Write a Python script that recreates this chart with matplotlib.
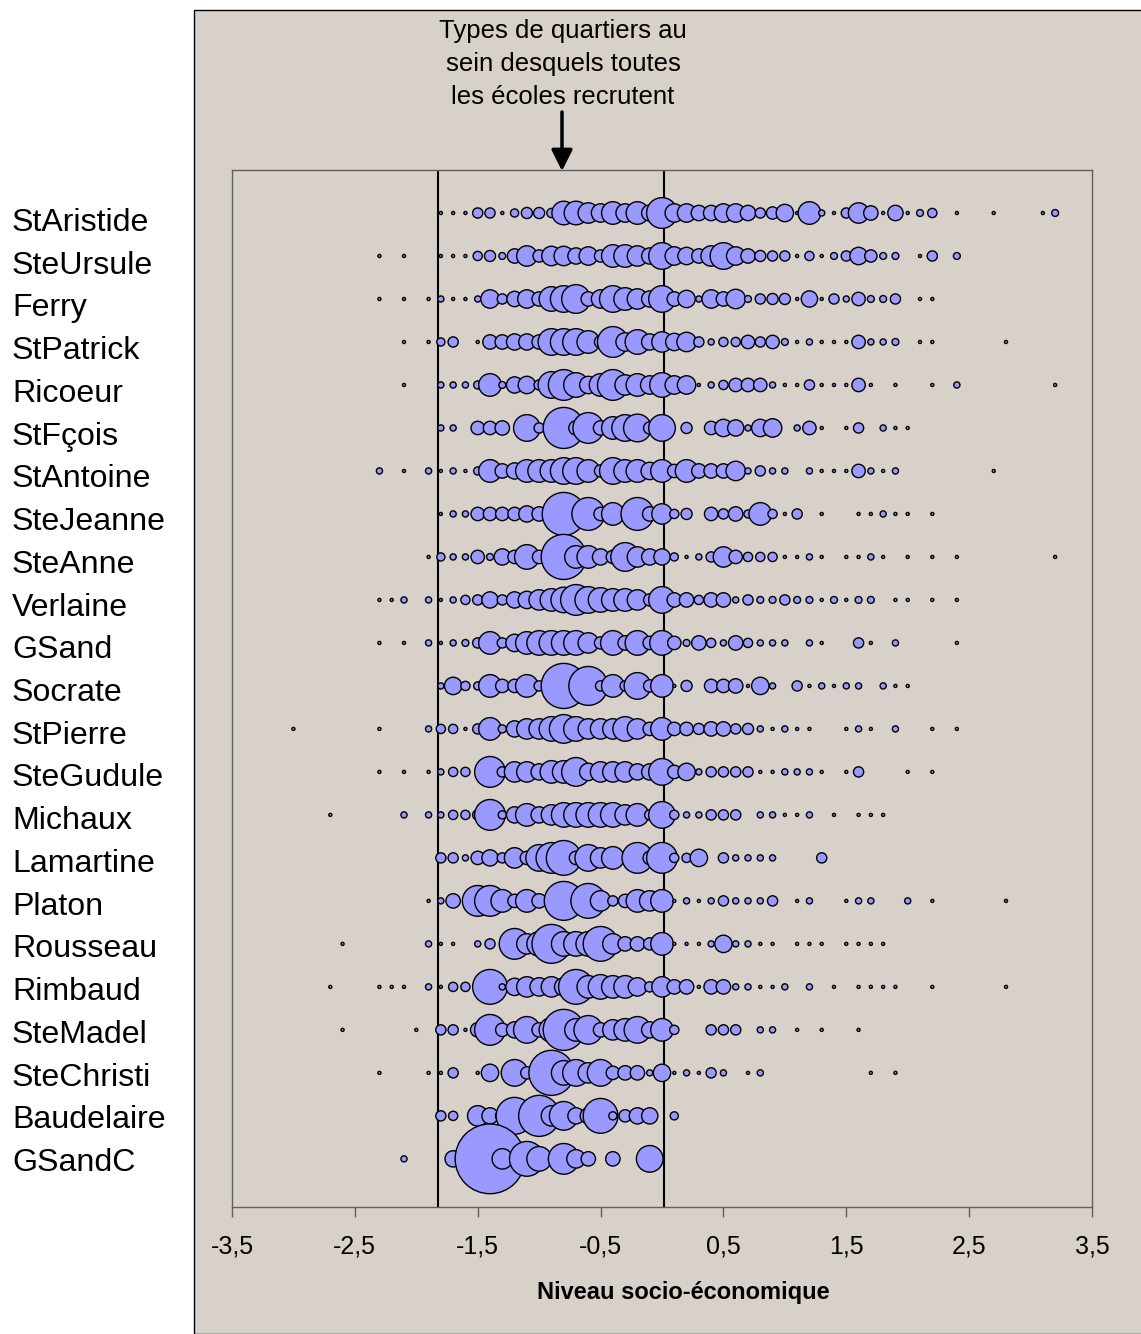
import matplotlib.pyplot as plt
from matplotlib.patches import Rectangle, FancyArrowPatch

plt.rcParams['font.family'] = ['Liberation Sans', 'DejaVu Sans']

# (niveau socio-économique du quartier, nombre d'élèves)
st_aristide = [(-1.8, 1), (-1.7, 1), (-1.6, 1), (-1.5, 11), (-1.4, 11), (-1.3, 1), (-1.2, 7), (-1.1, 13),
               (-1.0, 13), (-0.9, 9), (-0.8, 59), (-0.7, 59), (-0.6, 44), (-0.5, 36), (-0.4, 54), (-0.3, 36),
               (-0.2, 54), (-0.1, 28), (0.0, 100), (0.1, 36), (0.2, 36), (0.3, 25), (0.4, 25), (0.5, 36),
               (0.6, 36), (0.7, 25), (0.8, 11), (0.9, 16), (1.0, 32), (1.1, 1), (1.2, 54), (1.3, 4), (1.4, 1),
               (1.5, 11), (1.6, 44), (1.7, 22), (1.8, 1), (1.9, 25), (2.0, 1), (2.1, 5), (2.2, 9), (2.4, 1),
               (2.7, 1), (3.1, 1), (3.2, 5)]
ste_ursule = [(-2.3, 1), (-2.1, 1), (-1.8, 1), (-1.7, 1), (-1.6, 1), (-1.5, 9), (-1.4, 13), (-1.3, 5),
              (-1.2, 22), (-1.1, 44), (-1.0, 16), (-0.9, 40), (-0.8, 40), (-0.7, 28), (-0.6, 36), (-0.5, 16),
              (-0.4, 54), (-0.3, 54), (-0.2, 44), (-0.1, 28), (0.0, 75), (0.1, 36), (0.2, 32), (0.3, 22),
              (0.4, 44), (0.5, 75), (0.6, 36), (0.7, 22), (0.8, 13), (0.9, 11), (1.0, 11), (1.1, 1), (1.2, 9),
              (1.3, 1), (1.4, 5), (1.5, 11), (1.6, 32), (1.7, 16), (1.8, 5), (1.9, 5), (2.1, 1), (2.2, 11),
              (2.4, 5)]
ferry = [(-2.3, 1), (-2.1, 1), (-1.9, 1), (-1.8, 4), (-1.7, 1), (-1.6, 1), (-1.5, 4), (-1.4, 36), (-1.3, 11),
         (-1.2, 25), (-1.1, 36), (-1.0, 22), (-0.9, 64), (-0.8, 75), (-0.7, 87), (-0.6, 22), (-0.5, 36),
         (-0.4, 75), (-0.3, 54), (-0.2, 44), (-0.1, 28), (0.0, 75), (0.1, 22), (0.2, 32), (0.3, 4), (0.4, 36),
         (0.5, 22), (0.6, 40), (0.7, 5), (0.8, 11), (0.9, 13), (1.0, 13), (1.1, 1), (1.2, 28), (1.3, 1),
         (1.4, 11), (1.5, 4), (1.6, 19), (1.7, 5), (1.8, 5), (1.9, 11), (2.1, 1), (2.2, 1)]
st_patrick = [(-2.1, 1), (-1.9, 1), (-1.8, 7), (-1.7, 11), (-1.5, 1), (-1.4, 22), (-1.3, 22), (-1.2, 28),
              (-1.1, 28), (-1.0, 22), (-0.9, 75), (-0.8, 75), (-0.7, 75), (-0.6, 54), (-0.5, 16), (-0.4, 100),
              (-0.3, 36), (-0.2, 64), (-0.1, 28), (0.0, 44), (0.1, 32), (0.2, 40), (0.3, 11), (0.4, 4), (0.5, 9),
              (0.6, 9), (0.7, 19), (0.8, 11), (0.9, 19), (1.0, 5), (1.1, 1), (1.2, 4), (1.3, 1), (1.4, 1),
              (1.5, 1), (1.6, 19), (1.7, 4), (1.8, 4), (1.9, 5), (2.1, 1), (2.2, 1), (2.8, 1)]
ricoeur = [(-2.1, 1), (-1.8, 4), (-1.7, 4), (-1.6, 4), (-1.5, 7), (-1.4, 54), (-1.3, 5), (-1.2, 28), (-1.1, 32),
           (-1.0, 11), (-0.9, 75), (-0.8, 100), (-0.7, 64), (-0.6, 32), (-0.5, 54), (-0.4, 100), (-0.3, 44),
           (-0.2, 54), (-0.1, 36), (0.0, 64), (0.1, 36), (0.2, 36), (0.3, 1), (0.4, 4), (0.5, 9), (0.6, 19),
           (0.7, 19), (0.8, 19), (0.9, 4), (1.0, 1), (1.1, 1), (1.2, 11), (1.3, 1), (1.4, 1), (1.5, 1),
           (1.6, 19), (1.7, 1), (1.9, 1), (2.2, 1), (2.4, 4), (3.2, 1)]
st_fcois = [(-1.8, 4), (-1.7, 4), (-1.5, 19), (-1.4, 19), (-1.3, 22), (-1.1, 75), (-1.0, 11), (-0.8, 178),
            (-0.7, 22), (-0.6, 100), (-0.5, 22), (-0.4, 54), (-0.3, 75), (-0.2, 81), (-0.1, 16), (0.0, 75),
            (0.2, 13), (0.4, 19), (0.5, 32), (0.6, 28), (0.7, 4), (0.8, 32), (0.9, 36), (1.1, 4), (1.2, 19),
            (1.3, 1), (1.5, 1), (1.6, 11), (1.8, 4), (1.9, 1), (2.0, 1)]
st_antoine = [(-2.3, 4), (-2.1, 1), (-1.9, 4), (-1.8, 1), (-1.7, 4), (-1.6, 1), (-1.5, 7), (-1.4, 54),
              (-1.3, 22), (-1.2, 28), (-1.1, 54), (-1.0, 54), (-0.9, 54), (-0.8, 75), (-0.7, 75), (-0.6, 54),
              (-0.5, 16), (-0.4, 75), (-0.3, 54), (-0.2, 54), (-0.1, 32), (0.0, 54), (0.1, 19), (0.2, 54),
              (0.3, 22), (0.4, 22), (0.5, 22), (0.6, 40), (0.7, 4), (0.8, 11), (0.9, 4), (1.0, 4), (1.2, 4),
              (1.3, 1), (1.4, 1), (1.5, 1), (1.6, 19), (1.7, 4), (1.8, 1), (1.9, 4), (2.7, 1)]
ste_jeanne = [(-1.8, 1), (-1.7, 4), (-1.6, 4), (-1.5, 19), (-1.4, 19), (-1.3, 19), (-1.2, 19), (-1.1, 28),
              (-1.0, 22), (-0.8, 196), (-0.6, 114), (-0.5, 19), (-0.4, 54), (-0.2, 114), (-0.1, 22), (0.0, 44),
              (0.1, 9), (0.2, 13), (0.4, 19), (0.5, 11), (0.6, 22), (0.7, 7), (0.8, 54), (0.9, 9), (1.0, 1),
              (1.1, 11), (1.3, 1), (1.6, 1), (1.7, 1), (1.8, 4), (1.9, 1), (2.0, 1), (2.2, 1)]
ste_anne = [(-1.9, 1), (-1.8, 7), (-1.7, 4), (-1.6, 4), (-1.5, 19), (-1.4, 5), (-1.3, 28), (-1.2, 19),
            (-1.1, 64), (-1.0, 19), (-0.8, 215), (-0.7, 54), (-0.6, 54), (-0.5, 28), (-0.4, 19), (-0.3, 87),
            (-0.2, 44), (-0.1, 28), (0.0, 28), (0.1, 7), (0.2, 1), (0.3, 4), (0.4, 11), (0.5, 44), (0.6, 19),
            (0.7, 9), (0.8, 9), (0.9, 9), (1.0, 1), (1.1, 1), (1.2, 4), (1.3, 1), (1.5, 1), (1.6, 1), (1.7, 4),
            (1.8, 1), (2.0, 1), (2.2, 1), (2.4, 1), (3.2, 1)]
verlaine = [(-2.3, 1), (-2.2, 1), (-2.1, 4), (-1.9, 4), (-1.8, 1), (-1.7, 4), (-1.6, 9), (-1.5, 11), (-1.4, 28),
            (-1.3, 11), (-1.2, 28), (-1.1, 32), (-1.0, 44), (-0.9, 54), (-0.8, 69), (-0.7, 100), (-0.6, 75),
            (-0.5, 64), (-0.4, 54), (-0.3, 54), (-0.2, 44), (-0.1, 16), (0.0, 75), (0.1, 22), (0.2, 22),
            (0.3, 9), (0.4, 22), (0.5, 22), (0.6, 4), (0.7, 11), (0.8, 5), (0.9, 5), (1.0, 11), (1.1, 5),
            (1.2, 5), (1.3, 1), (1.4, 5), (1.5, 1), (1.6, 5), (1.7, 5), (1.9, 1), (2.0, 1), (2.2, 1), (2.4, 1)]
gsand = [(-2.3, 1), (-2.1, 1), (-1.9, 4), (-1.8, 1), (-1.7, 4), (-1.6, 5), (-1.5, 11), (-1.4, 54), (-1.3, 11),
         (-1.2, 32), (-1.1, 54), (-1.0, 64), (-0.9, 64), (-0.8, 64), (-0.7, 64), (-0.6, 44), (-0.5, 16),
         (-0.4, 64), (-0.3, 22), (-0.2, 64), (-0.1, 19), (0.0, 64), (0.1, 19), (0.2, 5), (0.3, 22), (0.4, 9),
         (0.5, 4), (0.6, 22), (0.7, 9), (0.8, 4), (0.9, 4), (1.0, 4), (1.2, 4), (1.3, 1), (1.6, 11), (1.7, 1),
         (1.9, 4), (2.4, 1)]
socrate = [(-1.8, 4), (-1.7, 32), (-1.6, 9), (-1.5, 7), (-1.4, 54), (-1.3, 19), (-1.2, 19), (-1.1, 54),
           (-1.0, 11), (-0.8, 215), (-0.6, 160), (-0.5, 11), (-0.4, 54), (-0.3, 11), (-0.2, 75), (-0.1, 16),
           (0.0, 54), (0.1, 1), (0.2, 13), (0.4, 19), (0.5, 19), (0.6, 22), (0.7, 1), (0.8, 32), (0.9, 4),
           (1.1, 11), (1.2, 1), (1.3, 4), (1.4, 1), (1.5, 4), (1.6, 4), (1.8, 4), (1.9, 1), (2.0, 1)]
st_pierre = [(-3.0, 1), (-2.3, 1), (-1.9, 4), (-1.8, 9), (-1.7, 9), (-1.6, 1), (-1.5, 11), (-1.4, 54),
             (-1.3, 7), (-1.2, 28), (-1.1, 44), (-1.0, 44), (-0.9, 64), (-0.8, 87), (-0.7, 64), (-0.6, 44),
             (-0.5, 44), (-0.4, 44), (-0.3, 64), (-0.2, 44), (-0.1, 19), (0.0, 54), (0.1, 19), (0.2, 19),
             (0.3, 13), (0.4, 22), (0.5, 22), (0.6, 11), (0.7, 13), (0.8, 4), (0.9, 1), (1.0, 4), (1.1, 1),
             (1.2, 1), (1.5, 1), (1.6, 4), (1.7, 1), (1.9, 4), (2.2, 1), (2.4, 1)]
ste_gudule = [(-2.3, 1), (-2.1, 1), (-1.9, 1), (-1.8, 4), (-1.7, 9), (-1.6, 9), (-1.4, 100), (-1.3, 11),
              (-1.2, 44), (-1.1, 44), (-1.0, 28), (-0.9, 54), (-0.8, 54), (-0.7, 87), (-0.6, 32), (-0.5, 44),
              (-0.4, 44), (-0.3, 44), (-0.2, 28), (-0.1, 28), (0.0, 75), (0.1, 19), (0.2, 32), (0.3, 4),
              (0.4, 11), (0.5, 11), (0.6, 11), (0.7, 11), (0.8, 1), (0.9, 1), (1.0, 4), (1.1, 4), (1.2, 4),
              (1.3, 1), (1.5, 1), (1.6, 11), (2.0, 1), (2.2, 1)]
michaux = [(-2.7, 1), (-2.1, 4), (-1.9, 4), (-1.8, 4), (-1.7, 9), (-1.6, 9), (-1.5, 11), (-1.4, 100),
           (-1.3, 7), (-1.2, 28), (-1.1, 54), (-1.0, 28), (-0.9, 44), (-0.8, 64), (-0.7, 64), (-0.6, 64),
           (-0.5, 64), (-0.4, 64), (-0.3, 44), (-0.2, 54), (-0.1, 11), (0.0, 75), (0.1, 9), (0.2, 4), (0.3, 4),
           (0.4, 11), (0.5, 11), (0.6, 11), (0.8, 4), (0.9, 4), (1.0, 1), (1.1, 1), (1.2, 4), (1.4, 1),
           (1.6, 1), (1.7, 1), (1.8, 1)]
lamartine = [(-1.8, 11), (-1.7, 11), (-1.6, 4), (-1.5, 19), (-1.4, 28), (-1.3, 11), (-1.2, 44), (-1.1, 19),
             (-1.0, 75), (-0.9, 100), (-0.8, 128), (-0.7, 19), (-0.6, 75), (-0.5, 44), (-0.4, 54), (-0.2, 100),
             (-0.1, 19), (0.0, 100), (0.1, 9), (0.2, 9), (0.3, 32), (0.5, 11), (0.6, 4), (0.7, 4), (0.8, 4),
             (0.9, 4), (1.3, 11)]
platon = [(-1.9, 1), (-1.8, 4), (-1.7, 22), (-1.5, 100), (-1.4, 100), (-1.3, 54), (-1.2, 19), (-1.1, 54),
          (-1.0, 22), (-0.8, 160), (-0.6, 128), (-0.5, 44), (-0.4, 11), (-0.3, 19), (-0.2, 54), (-0.1, 44),
          (0.0, 54), (0.1, 1), (0.2, 4), (0.3, 1), (0.4, 4), (0.5, 11), (0.6, 4), (0.7, 4), (0.8, 4), (0.9, 11),
          (1.1, 1), (1.2, 4), (1.5, 1), (1.6, 4), (1.7, 4), (2.0, 4), (2.2, 1), (2.8, 1)]
rousseau = [(-2.6, 1), (-1.9, 4), (-1.8, 1), (-1.7, 1), (-1.5, 4), (-1.4, 11), (-1.2, 100), (-1.1, 44),
            (-1.0, 64), (-0.9, 160), (-0.8, 64), (-0.7, 64), (-0.6, 64), (-0.5, 128), (-0.4, 44), (-0.3, 22),
            (-0.2, 22), (-0.1, 16), (0.0, 54), (0.1, 1), (0.2, 1), (0.3, 1), (0.4, 4), (0.5, 32), (0.6, 4),
            (0.7, 4), (0.8, 1), (0.9, 1), (1.1, 1), (1.2, 1), (1.3, 1), (1.5, 1), (1.6, 1), (1.7, 1), (1.8, 1)]
rimbaud = [(-2.7, 1), (-2.3, 1), (-2.2, 1), (-2.1, 1), (-1.9, 4), (-1.8, 1), (-1.7, 9), (-1.6, 9), (-1.4, 128),
           (-1.3, 4), (-1.2, 32), (-1.1, 44), (-1.0, 36), (-0.9, 44), (-0.8, 36), (-0.7, 128), (-0.6, 54),
           (-0.5, 64), (-0.4, 54), (-0.3, 54), (-0.2, 36), (-0.1, 11), (0.0, 44), (0.1, 22), (0.2, 22),
           (0.3, 1), (0.4, 22), (0.5, 22), (0.6, 4), (0.7, 4), (0.8, 1), (0.9, 1), (1.0, 4), (1.2, 4),
           (1.4, 1), (1.6, 1), (1.7, 1), (1.8, 1), (1.9, 1), (2.2, 1), (2.8, 1)]
ste_madel = [(-2.6, 1), (-2.0, 1), (-1.8, 11), (-1.7, 11), (-1.6, 1), (-1.5, 22), (-1.4, 100), (-1.3, 19),
             (-1.2, 28), (-1.1, 75), (-1.0, 22), (-0.9, 64), (-0.8, 178), (-0.7, 54), (-0.6, 87), (-0.5, 22),
             (-0.4, 44), (-0.3, 54), (-0.2, 75), (-0.1, 28), (0.0, 54), (0.1, 9), (0.4, 11), (0.5, 11),
             (0.6, 11), (0.8, 4), (0.9, 4), (1.1, 1), (1.3, 1), (1.6, 1)]
ste_christi = [(-2.3, 1), (-1.9, 1), (-1.8, 1), (-1.7, 11), (-1.5, 1), (-1.4, 32), (-1.2, 75), (-1.1, 16),
               (-0.9, 215), (-0.8, 64), (-0.7, 75), (-0.6, 44), (-0.5, 75), (-0.4, 19), (-0.3, 22), (-0.2, 22),
               (-0.1, 4), (0.0, 32), (0.1, 1), (0.2, 4), (0.3, 1), (0.4, 11), (0.5, 4), (0.7, 1), (0.8, 4),
               (1.7, 1), (1.9, 1)]
baudelaire = [(-1.8, 11), (-1.7, 9), (-1.5, 44), (-1.4, 28), (-1.3, 19), (-1.2, 144), (-1.0, 178), (-0.9, 44),
              (-0.8, 87), (-0.7, 28), (-0.6, 28), (-0.5, 128), (-0.4, 7), (-0.3, 16), (-0.2, 28), (-0.1, 28),
              (0.1, 7)]
gsand_c = [(-2.1, 4), (-1.7, 28), (-1.4, 514), (-1.3, 44), (-1.1, 128), (-1.0, 64), (-0.8, 100), (-0.7, 36),
           (-0.6, 22), (-0.4, 22), (-0.1, 75)]

ecoles = ['StAristide', 'SteUrsule', 'Ferry', 'StPatrick', 'Ricoeur', 'StFçois', 'StAntoine', 'SteJeanne',
          'SteAnne', 'Verlaine', 'GSand', 'Socrate', 'StPierre', 'SteGudule', 'Michaux', 'Lamartine',
          'Platon', 'Rousseau', 'Rimbaud', 'SteMadel', 'SteChristi', 'Baudelaire', 'GSandC']
series = [st_aristide, ste_ursule, ferry, st_patrick, ricoeur, st_fcois, st_antoine, ste_jeanne, ste_anne,
          verlaine, gsand, socrate, st_pierre, ste_gudule, michaux, lamartine, platon, rousseau, rimbaud,
          ste_madel, ste_christi, baudelaire, gsand_c]

# bornes des types de quartiers communs a toutes les ecoles
bornes = [-1.82, 0.02]
xticks = [-3.5, -2.5, -1.5, -0.5, 0.5, 1.5, 2.5, 3.5]

W, H = 1141, 1334
grey = '#D7D1CA'
fig = plt.figure(figsize=(W / 100, H / 100), dpi=100)
fig.patches.append(Rectangle((194 / W, 0), (W - 194) / W + 0.01, (H - 10) / H, transform=fig.transFigure,
                             facecolor=grey, edgecolor='black', lw=1, zorder=-10))

ax = fig.add_axes([232 / W, 1 - 1207 / H, 860 / W, 1037 / H])
ax.set_facecolor(grey)
for sp in ax.spines.values():
    sp.set_color('#606060')
    sp.set_linewidth(1)

for i, pts in enumerate(series):
    xs = [p[0] for p in pts]
    ns = [p[1] for p in pts]
    ax.scatter(xs, [i + 1] * len(xs), s=[n * 4.9 for n in ns], c='#9999FF',
               edgecolors='black', linewidths=1.0, zorder=3)

for b in bornes:
    ax.axvline(b, color='black', lw=1.5, zorder=2)

ax.set_xlim(-3.5, 3.5)
ax.set_ylim(24.12, 0)
ax.set_yticks([])
ax.set_xticks(xticks)
ax.set_xticklabels([f'{t:.1f}'.replace('.', ',') for t in xticks], fontsize=18)
ax.tick_params(axis='x', direction='out', length=7, width=1, color='#606060', pad=13)

fig.text(683.5 / W, 1 - 1293 / H, 'Niveau socio-économique', fontsize=17, fontweight='bold',
         ha='center', va='center')

# noms des ecoles
for i, nom in enumerate(ecoles):
    fig.text(12 / W, 1 - (231 + i * 42.73) / H, nom, fontsize=23.1, ha='left', va='baseline')

fig.text(563 / W, 1 - 64 / H, 'Types de quartiers au\nsein desquels toutes\nles écoles recrutent',
         fontsize=18.5, ha='center', va='center', linespacing=1.45)
fig.add_artist(FancyArrowPatch(
    (562 / W, 1 - 112 / H), (562 / W, 1 - 171 / H), transform=fig.transFigure,
    arrowstyle='-|>', mutation_scale=32, lw=2.5, color='black', shrinkA=0, shrinkB=0))

fig.savefig('out.png', dpi=100)
